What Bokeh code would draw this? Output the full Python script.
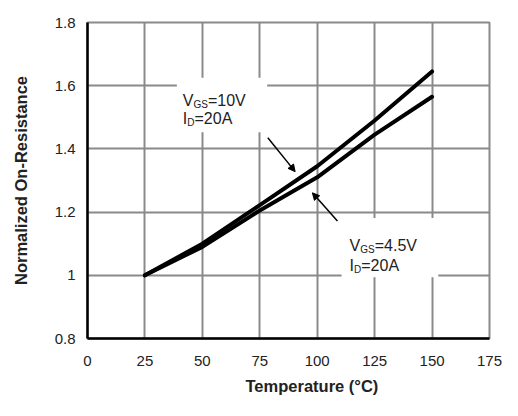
from bokeh.plotting import figure
from bokeh.models import Label, Arrow, NormalHead, Range1d, FixedTicker, Title
from bokeh.embed import file_html
from bokeh.resources import INLINE

# ---- data ----
temperature = [25, 50, 75, 100, 125, 150]
r_vgs_10v = [1.0, 1.10, 1.222, 1.345, 1.49, 1.645]
r_vgs_4v5 = [1.0, 1.09, 1.205, 1.31, 1.445, 1.565]
x_ticks = [0, 25, 50, 75, 100, 125, 150, 175]
y_ticks = [0.8, 1.0, 1.2, 1.4, 1.6, 1.8]
y_tick_labels = ["0.8", "1", "1.2", "1.4", "1.6", "1.8"]
x_title = "Temperature (°C)"
y_title = "Normalized On-Resistance"

FONT = "Liberation Sans"
GRID = "#8a8a8a"
TXT = "#222222"

p = figure(width=502, height=400, output_backend="svg", toolbar_location=None,
           x_range=Range1d(0, 175), y_range=Range1d(0.8, 1.8),
           min_border_left=87, min_border_right=13, min_border_top=22,
           min_border_bottom=62, background_fill_color="white",
           border_fill_color="white")

# grid / frame
p.xgrid.ticker = FixedTicker(ticks=x_ticks)
p.ygrid.ticker = FixedTicker(ticks=y_ticks)
for g in (p.xgrid, p.ygrid):
    g.grid_line_color = GRID
    g.grid_line_width = 2
p.outline_line_color = GRID
p.outline_line_width = 2

# axes
p.xaxis.ticker = FixedTicker(ticks=x_ticks)
p.yaxis.ticker = FixedTicker(ticks=y_ticks)
p.yaxis.major_label_overrides = {t: s for t, s in zip(y_ticks, y_tick_labels)}
for ax in (p.xaxis[0], p.yaxis[0]):
    ax.axis_line_color = "black"
    ax.axis_line_width = 2.5
    ax.major_tick_line_color = None
    ax.minor_tick_line_color = None
    ax.major_tick_in = 0
    ax.major_tick_out = 0
    ax.major_label_text_font = FONT
    ax.major_label_text_font_size = "15px"
    ax.major_label_text_color = TXT
p.xaxis.major_label_standoff = 17
p.yaxis.major_label_standoff = 12

p.yaxis.axis_label = y_title
p.yaxis.axis_label_text_font = FONT
p.yaxis.axis_label_text_font_size = "16.5px"
p.yaxis.axis_label_text_font_style = "bold"
p.yaxis.axis_label_text_color = TXT
p.yaxis.axis_label_standoff = 22

p.add_layout(Title(text=x_title, align="left", offset=158, standoff=12,
                   text_font=FONT, text_font_size="16.5px", text_font_style="bold",
                   text_color=TXT), "below")

# white boxes behind the annotation texts (break the grid)
p.quad(left=[38.9, 110.6], right=[78.2, 152.7], top=[1.625, 1.181],
       bottom=[1.453, 0.994], fill_color="white", line_color=None)

# curves
p.line(temperature, r_vgs_10v, line_color="black", line_width=4, line_join="round", line_cap="round")
p.line(temperature, r_vgs_4v5, line_color="black", line_width=4, line_join="round", line_cap="round")

# arrows
p.add_layout(Arrow(end=NormalHead(size=7, fill_color="black", line_color="black", line_width=1),
                   x_start=78.5, y_start=1.435, x_end=90.4, y_end=1.328,
                   line_color="black", line_width=1.5))
p.add_layout(Arrow(end=NormalHead(size=7, fill_color="black", line_color="black", line_width=1),
                   x_start=108.8, y_start=1.172, x_end=97.9, y_end=1.261,
                   line_color="black", line_width=1.5))

# annotation texts with subscripts
W = {"V": .667, "G": .778, "S": .667, "=": .584, "1": .556, "0": .556, "4": .556,
     ".": .278, "5": .556, "I": .278, "D": .722, "2": .556, "A": .667}


def width(s, size):
    return sum(W.get(c, .556) for c in s) * size


def rich(x, y, parts):
    off = 0.0
    for text, size, dy in parts:
        p.add_layout(Label(x=x, y=y, x_offset=off, y_offset=dy, text=text,
                           text_font=FONT, text_font_size=f"{size}px",
                           text_color=TXT, text_baseline="alphabetic",
                           text_align="left"))
        off += width(text, size)


rich(41.5, 1.554, [("V", 16, 0), ("GS", 10, -4), ("=10V", 16, 0)])
rich(41.5, 1.495, [("I", 16, 0), ("D", 10, -4), ("=20A", 16, 0)])
rich(114.1, 1.094, [("V", 16, 0), ("GS", 10, -4), ("=4.5V", 16, 0)])
rich(114.1, 1.031, [("I", 16, 0), ("D", 10, -4), ("=20A", 16, 0)])

open("out.html", "w").write(file_html(p, INLINE))
